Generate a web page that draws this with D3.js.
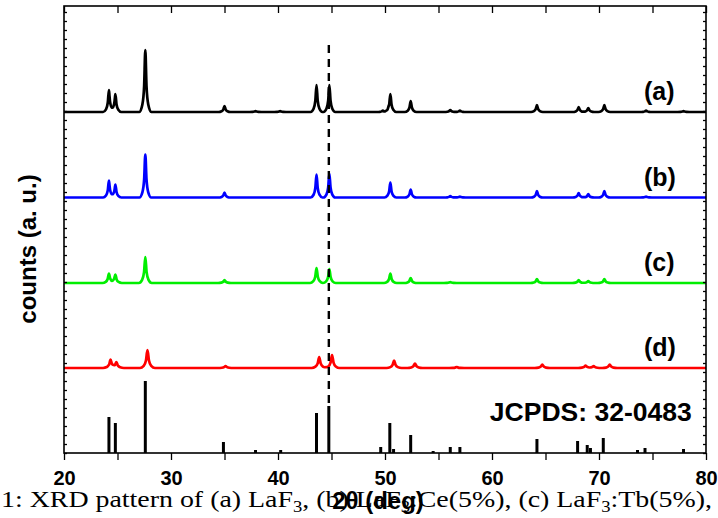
<!DOCTYPE html>
<html>
<head>
<meta charset="utf-8">
<script src="https://cdn.jsdelivr.net/npm/d3@7"></script>
<style>
  body{margin:0;background:#fff;}
  text{font-family:Arial,"Liberation Sans",sans-serif;}
</style>
</head>
<body>
<script>
// XRD patterns, stacked with offsets, plus reference sticks

var outerWidth = 718,
    outerHeight = 518,
    margin = {left:64,right:12,top:6,bottom:65},
    innerWidth = outerWidth-margin.left-margin.right,
    innerHeight = outerHeight-margin.top-margin.bottom;

// peaks: [2theta, intensity]
var peaksA = [[24.2,22],[24.8,18],[27.6,62],[35.0,6],[37.9,1],[40.2,1],[43.6,27],[44.8,27],[49.8,1.5],
  [50.5,18],[52.4,11],[56.1,2],[57.0,1.5],[64.2,7],[68.1,5],[69.0,4],[70.5,7],[74.4,1.5],[77.9,1]];
var peaksB = [[24.2,17],[24.8,13],[27.6,43],[35.0,5],[43.6,23],[44.8,24],[50.5,15],[52.4,8],
  [56.1,1.5],[57.0,1],[64.2,6.5],[68.1,4.5],[69.0,3.5],[70.5,6.5],[74.4,1]];
var peaksC = [[24.2,9.5],[24.8,8.5],[27.6,26],[35.0,3],[43.6,15],[44.8,14],[50.5,9.5],[52.4,5],
  [56.1,1],[64.2,4],[68.1,3],[69.0,2],[70.5,4]];
var peaksD = [[24.35,8],[24.9,5.5],[27.8,18],[35.1,2],[43.85,11],[45.05,13],[50.85,7.5],[52.8,4.5],
  [56.7,1],[64.7,3.5],[68.75,2.5],[69.5,2],[71.0,3.5]];
// JCPDS 32-0483 reference lines
var sticks = [[24.2,36],[24.8,30],[27.6,72],[34.9,11],[37.9,3],[40.25,3],[43.6,40],[44.75,47],
  [49.6,6],[50.45,30],[50.8,4],[52.4,18],[54.5,2],[56.1,6],[57.0,6],[64.2,14],[68.0,12],
  [68.9,8],[69.2,5],[70.4,15],[73.6,3],[74.3,5],[77.9,4]];

var seriesNames = ['(a)','(b)','(c)','(d)'];
var seriesPeaks = [peaksA,peaksB,peaksC,peaksD];
var seriesOffset = [341,255.5,170,85];
var seriesWidth = [0.55,0.55,0.6,0.7];
var seriesColor = ['#000000','#0000ff','#00ee00','#ff0000'];
var xTicks = [20,30,40,50,60,70,80];
var dashX = 44.75;

var svg = d3.select('body').append('svg')
  .attr('width',outerWidth)
  .attr('height',outerHeight);

var g = svg.append('g')
  .attr('transform','translate('+margin.left+','+margin.top+')');

var xScale = d3.scaleLinear().domain([20,80]).range([0,innerWidth]);
var yScale = d3.scaleLinear().domain([0,447]).range([innerHeight,0]);

// peak shape (fraction of half-base, fraction of height)
var shape = [[-1,0],[-0.5,0.12],[-0.2,0.42],[0,1],[0.2,0.42],[0.5,0.12],[1,0]];

function peakValue(pk,w,x){
  var u = (x-pk[0])/w;
  if(u<=-1 || u>=1) return 0;
  for(var i=0;i<shape.length-1;i++){
    var a = shape[i], b = shape[i+1];
    if(u>=a[0] && u<=b[0]){
      return pk[1]*(a[1]+(b[1]-a[1])*(u-a[0])/(b[0]-a[0]));
    }
  }
  return 0;
}

function keyPoints(peaks,w){
  var xs = [20,80];
  peaks.forEach(function(pk){
    shape.forEach(function(s){ xs.push(pk[0]+s[0]*w); });
  });
  xs = xs.filter(function(x){return x>=20 && x<=80;}).sort(d3.ascending);
  return xs.map(function(x){
    return [x, d3.sum(peaks,function(pk){return peakValue(pk,w,x);})];
  });
}

// traces
seriesPeaks.forEach(function(peaks,i){
  var off = seriesOffset[i];
  var line = d3.line()
    .x(function(d){return xScale(d[0]);})
    .y(function(d){return yScale(d[1]+off);})
    .curve(d3.curveMonotoneX);
  g.append('path')
    .datum(keyPoints(peaks,seriesWidth[i]))
    .attr('d',line)
    .attr('fill','none')
    .attr('stroke',seriesColor[i])
    .attr('stroke-width',2.7)
    .attr('stroke-linejoin','round');
  g.append('text')
    .attr('x',xScale(74.2))
    .attr('y',yScale(off)-12)
    .attr('font-size',25)
    .attr('font-weight','bold')
    .text(seriesNames[i]);
});

// sticks
g.selectAll('.stick').data(sticks).enter().append('line')
  .attr('class','stick')
  .attr('x1',function(d){return xScale(d[0]);})
  .attr('x2',function(d){return xScale(d[0]);})
  .attr('y1',yScale(0))
  .attr('y2',function(d){return yScale(d[1]);})
  .attr('stroke','#000')
  .attr('stroke-width',3);

g.append('text')
  .attr('x',xScale(59.8))
  .attr('y',yScale(32))
  .attr('font-size',26.5)
  .attr('font-weight','bold')
  .text('JCPDS: 32-0483');

// dashed marker
g.append('line')
  .attr('x1',xScale(dashX)).attr('x2',xScale(dashX))
  .attr('y1',yScale(408)).attr('y2',yScale(48))
  .attr('stroke','#000')
  .attr('stroke-width',2.4)
  .attr('stroke-dasharray','8,6');

// axes
var xAxis = d3.axisBottom(xScale).tickValues(d3.range(20,81,5)).tickSize(7).tickPadding(11)
  .tickFormat(function(d){return xTicks.indexOf(d)>=0 ? d : '';});
var gx = g.append('g').attr('transform','translate(0,'+innerHeight+')').call(xAxis);
gx.selectAll('text').attr('font-size',20).attr('font-weight','bold').attr('fill','#000')
  .style('font-family','Arial,"Liberation Sans",sans-serif');

var xTop = d3.axisBottom(xScale).tickValues(d3.range(20,81,5)).tickSize(7).tickFormat('');
g.append('g').call(xTop);

var yTicks = d3.range(0,448,9);
g.append('g').call(d3.axisRight(yScale).tickValues(yTicks).tickSize(3).tickFormat(''));
g.append('g').attr('transform','translate('+innerWidth+',0)')
  .call(d3.axisLeft(yScale).tickValues(yTicks).tickSize(3).tickFormat(''));

g.selectAll('.domain').remove();
g.selectAll('.tick line').attr('stroke','#000').attr('stroke-width',1.3);
g.append('rect')
  .attr('width',innerWidth).attr('height',innerHeight)
  .attr('fill','none').attr('stroke','#000').attr('stroke-width',1.6);

// axis titles
svg.append('text')
  .attr('transform','translate(36,249) rotate(-90)')
  .attr('text-anchor','middle')
  .attr('font-size',24)
  .attr('font-weight','bold')
  .text('counts (a. u.)');

svg.append('text')
  .attr('x',378)
  .attr('y',509)
  .attr('text-anchor','middle')
  .attr('font-size',24)
  .attr('font-weight','bold')
  .text('2\u03b8 (deg)');

// caption line of the paper
var cap = svg.append('text')
  .attr('x',1).attr('y',507)
  .attr('font-size',24)
  .attr('textLength',711)
  .attr('lengthAdjust','spacingAndGlyphs')
  .style('font-family','"Liberation Serif","Times New Roman",serif');
cap.append('tspan').text('1: XRD pattern of (a) LaF');
cap.append('tspan').attr('dy',5).attr('font-size',16).text('3');
cap.append('tspan').attr('dy',-5).text(', (b) LaF');
cap.append('tspan').attr('dy',5).attr('font-size',16).text('3');
cap.append('tspan').attr('dy',-5).text(':Ce(5%), (c) LaF');
cap.append('tspan').attr('dy',5).attr('font-size',16).text('3');
cap.append('tspan').attr('dy',-5).text(':Tb(5%),');
</script>
</body>
</html>
